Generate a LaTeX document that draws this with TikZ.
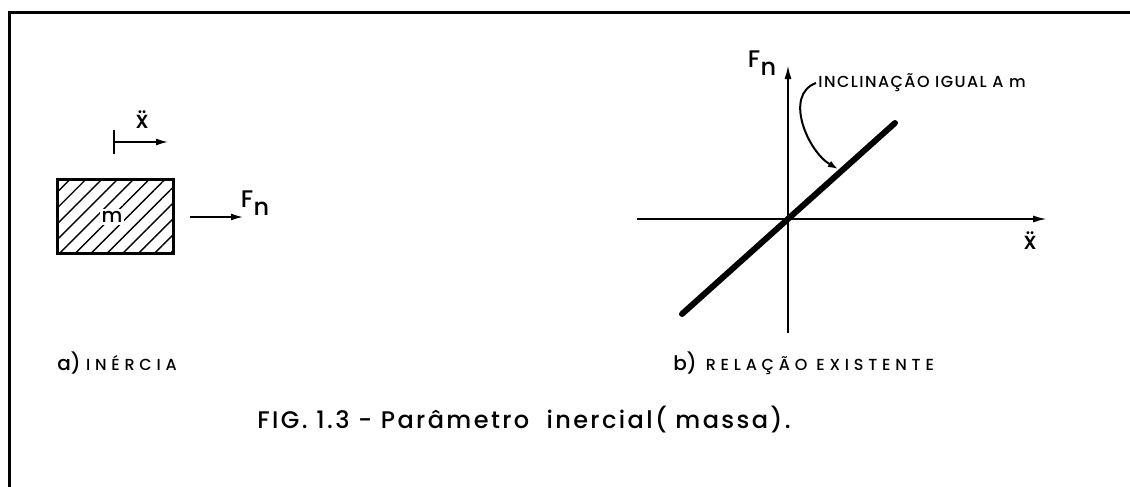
\documentclass[tikz,border=0pt]{standalone}
\usepackage{fontspec}
\setmainfont{Poppins}[UprightFont=* Medium]
\newfontfamily\spaced[LetterSpace=30,UprightFont=* Medium]{Poppins}
\newfontfamily\incfont[LetterSpace=9,UprightFont=* Medium]{Poppins}
\newfontfamily\wide[LetterSpace=10,UprightFont=* Medium]{Poppins}
\usetikzlibrary{arrows.meta}
\usetikzlibrary{patterns.meta}
\usetikzlibrary{positioning}

\newcommand{\Fn}{F\kern.2pt\raisebox{-.6ex}{n}}
\newcommand{\xdd}{\accent"A8 x}

\begin{document}
\begin{tikzpicture}[x=0.5pt,y=-0.5pt]
\useasboundingbox (0,0) rectangle (1130,487);
\draw[line width=1.5pt] (9,487) -- (9,12) -- (1130,12);

% a) massa
\begin{scope}[every node/.style={inner sep=1pt,font=\large}]
    \node[draw,line width=1.4pt,minimum width=58pt,minimum height=37pt,
          pattern={Lines[angle=45,distance=5.6pt,line width=.7pt]}] (box) at (115.5,216.5) {};
    \node[fill=white,font=\normalsize] (m) at (112,217) {m};
    \node (fn) at (255,203) {\Fn};
    \node (acc) at (142,120) {\xdd};
    \coordinate (f0) at (190,217);
    \coordinate (f1) at (243,217);
    \coordinate (a0) at (114,142);
    \coordinate (a1) at (168,142);
\end{scope}

\begin{scope}[every edge/.style={draw,line width=.8pt}]
    \foreach \u/\v in {f0/f1, a0/a1}
        \path [-{Latex[length=6pt,width=3.5pt]}] (\u) edge (\v);
    \path (a0) edge ++(0,-12) (a0) edge ++(0,12);
\end{scope}

% b) grafico
\begin{scope}[every node/.style={inner sep=1pt,font=\large}]
    \coordinate (o) at (788,219);
    \coordinate (ybot) at (788,333);
    \coordinate (ytop) at (788,65);
    \coordinate (xleft) at (637,219);
    \coordinate (xright) at (1047,219);
    \coordinate (l0) at (682,314);
    \coordinate (l1) at (895,123);
    \coordinate (tip) at (838,169);
    \node (fny) at (762,63) {\Fn};
    \node (accx) at (1030,241) {\xdd};
    \node[anchor=west,font=\incfont\footnotesize] (incl) at (816,83) {INCLINAÇÃO IGUAL A m};
\end{scope}

\begin{scope}[every edge/.style={draw,line width=1pt}]
    \foreach \u/\v in {ybot/ytop, xleft/xright}
        \path [-{Latex[length=7pt,width=3.5pt]}] (\u) edge (\v);
    \path (l0) edge[line width=3pt,line cap=round] (l1);
    \path [-{Latex[length=5pt,width=3.5pt]}] (incl.west) edge[out=200,in=150] (tip);
\end{scope}

% legendas
\begin{scope}[every node/.style={anchor=west,inner sep=0pt}]
    \node (la) at (57,363) {a) {\spaced\footnotesize INÉRCIA}};
    \node (lb) at (673,363) {b){\spaced\footnotesize\ RELAÇÃO EXISTENTE}};
    \node[font=\wide\large] (cap) at (257,420) {FIG. 1.3 - Parâmetro \ inercial( massa).};
\end{scope}
\end{tikzpicture}
\end{document}
